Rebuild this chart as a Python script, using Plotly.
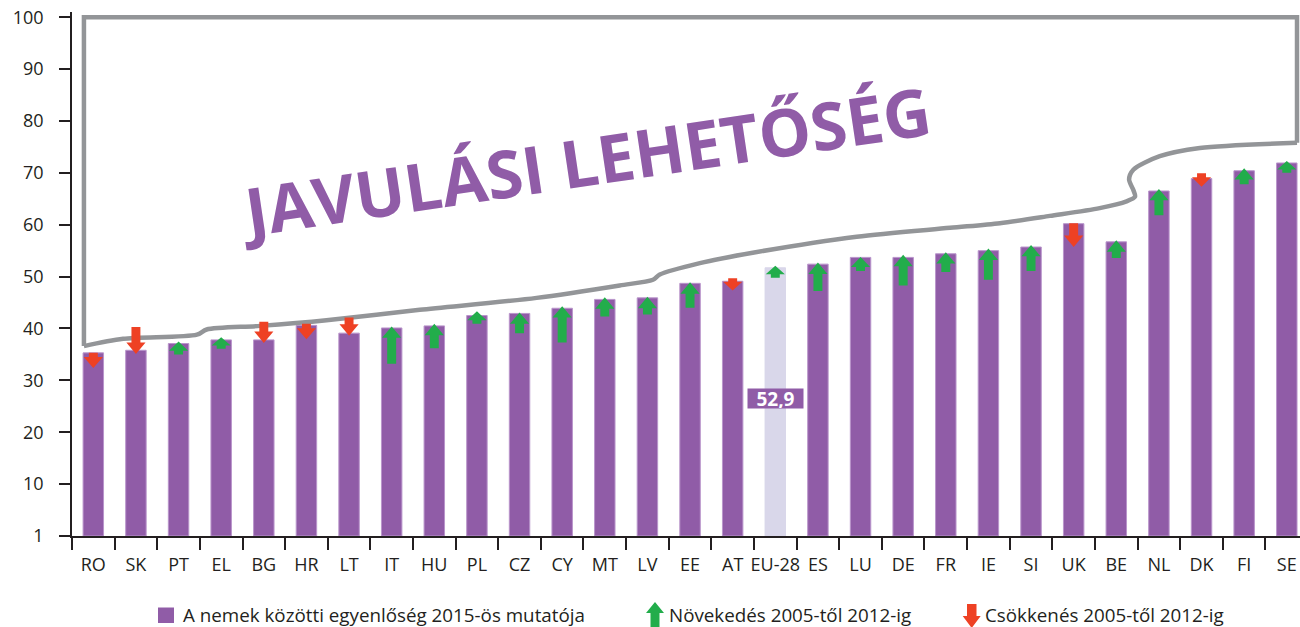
import plotly.graph_objects as go

# ---------------- data ----------------
categories = ["RO", "SK", "PT", "EL", "BG", "HR", "LT", "IT", "HU", "PL", "CZ", "CY",
              "MT", "LV", "EE", "AT", "EU-28", "ES", "LU", "DE", "FR", "IE", "SI", "UK",
              "BE", "NL", "DK", "FI", "SE"]
index_2015 = [35.3, 35.8, 37.1, 37.8, 37.8, 40.6, 39.1, 40.1, 40.5, 42.5, 42.9, 43.9,
              45.6, 45.9, 48.7, 49.1, 51.7, 52.4, 53.7, 53.7, 54.4, 55.0, 55.7, 60.2,
              56.7, 66.5, 68.9, 70.4, 71.9]
# arrow tail (2005) and arrow tip (2012)
change_from = [35.3, 40.3, 35.0, 36.1, 41.3, 40.9, 42.1, 33.2, 36.2, 40.9, 39.1, 37.3,
               42.3, 42.7, 44.0, 49.7, 49.8, 47.2, 51.1, 48.3, 50.9, 49.4, 51.1, 60.3,
               53.6, 61.8, 69.9, 67.8, 70.0]
change_to = [32.4, 35.1, 37.5, 38.3, 37.2, 37.9, 38.6, 40.4, 40.9, 43.3, 43.1, 44.3,
             46.0, 46.1, 48.9, 47.3, 52.1, 52.7, 53.8, 54.2, 54.7, 55.4, 56.1, 55.7,
             57.0, 66.9, 67.3, 70.9, 72.3]
eu_label = "52,9"
big_label = "JAVULÁSI LEHETŐSÉG"
legend_labels = ["A nemek közötti egyenlőség 2015-ös mutatója",
                 "Növekedés 2005-től 2012-ig",
                 "Csökkenés 2005-től 2012-ig"]
y_ticks = [0, 10, 20, 30, 40, 50, 60, 70, 80, 90, 100]
y_ticktext = ["1", "10", "20", "30", "40", "50", "60", "70", "80", "90", "100"]

# "improvement potential" frame (category-index / value units)
frame_x = [-0.22, -0.22, 28.24, 28.24]
frame_y = [36.6, 100, 100, 75.8]
curve_x = [28.24, 25.96, 25.02, 24.40, 24.30, 24.40, 24.44, 24.24, 23.61, 22.44, 21.27,
           20.10, 17.91, 15.47, 14.23, 13.29, 13.13, 12.35, 10.40, 7.66, 5.47, 3.91,
           2.66, 2.43, 0.70, -0.22]
curve_y = [75.8, 74.8, 73.2, 70.6, 68.7, 66.7, 65.4, 64.5, 63.2, 61.7, 60.3,
           59.4, 57.7, 54.6, 52.6, 50.4, 49.4, 48.3, 45.9, 43.6, 41.6, 40.5,
           39.8, 38.8, 38.0, 36.6]

# ---------------- style ----------------
BAR = "#905ca7"
BAR_EDGE = "#b995cb"
EU_BAR = "#d9d7ea"
GREEN = "#22ad4b"
RED = "#ee4124"
GREY = "#939598"
INK = "#231f20"
FONT = "Open Sans"

xs = list(range(len(categories)))
bar_colors = [EU_BAR if c == "EU-28" else BAR for c in categories]
edge_colors = [EU_BAR if c == "EU-28" else BAR_EDGE for c in categories]

fig = go.Figure()
fig.add_trace(go.Bar(x=xs, y=index_2015, width=0.48,
                     marker=dict(color=bar_colors, line=dict(color=edge_colors, width=1)),
                     hoverinfo="skip", showlegend=False))

# frame
fig.add_trace(go.Scatter(x=frame_x, y=frame_y, mode="lines",
                         line=dict(color=GREY, width=4.5), hoverinfo="skip", showlegend=False))
fig.add_trace(go.Scatter(x=curve_x, y=curve_y, mode="lines",
                         line=dict(color=GREY, width=4.5, shape="spline", smoothing=0.8),
                         hoverinfo="skip", showlegend=False))


def arrow(xc, y0, y1):
    L = y1 - y0
    d = 1 if L > 0 else -1
    head = min(2.2, 0.72 * abs(L))
    yb = y1 - d * head
    sw, hw = 0.105, 0.225
    px = [xc - sw, xc - sw, xc - hw, xc, xc + hw, xc + sw, xc + sw, xc - sw]
    py = [y0, yb, yb, y1, yb, yb, y0, y0]
    return px, py


gx, gy, rx, ry = [], [], [], []
for i, (a, b) in enumerate(zip(change_from, change_to)):
    px, py = arrow(i, a, b)
    if b >= a:
        gx += px + [None]
        gy += py + [None]
    else:
        rx += px + [None]
        ry += py + [None]

fig.add_trace(go.Scatter(x=gx, y=gy, mode="lines", fill="toself", fillcolor=GREEN,
                         line=dict(width=0, color=GREEN), hoverinfo="skip", showlegend=False))
fig.add_trace(go.Scatter(x=rx, y=ry, mode="lines", fill="toself", fillcolor=RED,
                         line=dict(width=0, color=RED), hoverinfo="skip", showlegend=False))

# ---------------- layout ----------------
W, H = 1300, 627
ML, MR, MT, MB = 72, 0, 12, 91
PW, PH = W - ML - MR, H - MT - MB


def pxx(p):
    return (p - ML) / PW


def pxy(p):
    return (H - MB - p) / PH


fig.update_layout(
    width=W, height=H,
    margin=dict(l=ML, r=MR, t=MT, b=MB),
    plot_bgcolor="white", paper_bgcolor="white",
    showlegend=False,
    font=dict(family=FONT, color=INK),
)
fig.update_xaxes(
    range=[-0.5, 28.31], tickmode="array", tickvals=xs, ticktext=categories,
    ticks="outside", ticklen=12, tickcolor="rgba(0,0,0,0)",
    showline=True, linecolor=INK, linewidth=1.5, showgrid=False, zeroline=False,
    tickfont=dict(family=FONT, size=18, color=INK),
    minor=dict(tickmode="array", tickvals=[i - 0.5 for i in range(len(categories) + 1)],
               ticks="outside", ticklen=12, tickcolor=INK, tickwidth=1.5, showgrid=False),
)
fig.update_yaxes(
    range=[0, 101], tickmode="array", tickvals=y_ticks, ticktext=y_ticktext,
    ticks="outside", ticklen=11, tickcolor=INK, tickwidth=1.5,
    showline=True, linecolor=INK, linewidth=1.5, showgrid=False, zeroline=False,
    tickfont=dict(family=FONT, size=18, color=INK), ticklabelstandoff=12,
)

LEG_SIZE = 18.8
annotations = [
    dict(x=16, y=26.6, xref="x", yref="y", text="<b>" + eu_label + "</b>", showarrow=False,
         bgcolor=BAR, font=dict(family=FONT, size=19, color="white"), width=55, height=19,
         borderpad=0),
    dict(x=11.55, y=72.4, xref="x", yref="y", text="<b>" + big_label + "</b>", showarrow=False,
         textangle=-8.5, font=dict(family=FONT, size=66, color=BAR)),
    dict(x=pxx(181), y=pxy(615), xref="paper", yref="paper", text=legend_labels[0],
         showarrow=False, xanchor="left", yanchor="middle", font=dict(family=FONT, size=LEG_SIZE, color=INK)),
    dict(x=pxx(667), y=pxy(615), xref="paper", yref="paper", text=legend_labels[1],
         showarrow=False, xanchor="left", yanchor="middle", font=dict(family=FONT, size=LEG_SIZE, color=INK)),
    dict(x=pxx(983), y=pxy(615), xref="paper", yref="paper", text=legend_labels[2],
         showarrow=False, xanchor="left", yanchor="middle", font=dict(family=FONT, size=LEG_SIZE, color=INK)),
]
fig.update_layout(annotations=annotations)


def ppath(points):
    return "M " + " L ".join(f"{pxx(a)},{pxy(b)}" for a, b in points) + " Z"


shapes = [
    dict(type="rect", xref="paper", yref="paper", x0=pxx(158), x1=pxx(174), y0=pxy(623), y1=pxy(607.5),
         fillcolor=BAR, line=dict(width=0)),
    dict(type="path", xref="paper", yref="paper", fillcolor=GREEN, line=dict(width=0),
         path=ppath([(650.5, 630), (650.5, 613), (646, 613), (655, 602), (664, 613),
                     (659.5, 613), (659.5, 630)])),
    dict(type="path", xref="paper", yref="paper", fillcolor=RED, line=dict(width=0),
         path=ppath([(967, 604), (967, 616), (962.7, 616), (971.7, 628), (980.7, 616),
                     (976.5, 616), (976.5, 604)])),
]
fig.update_layout(shapes=shapes)

fig.write_html("out.html", config={"displayModeBar": False},
               post_script="document.body.style.margin='0';document.body.style.overflow='hidden';")
